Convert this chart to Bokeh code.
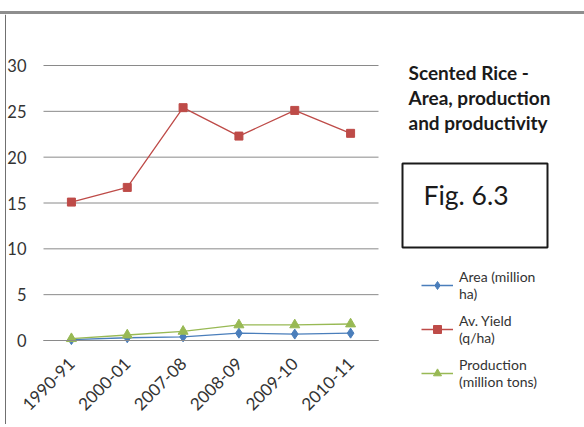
from bokeh.plotting import figure
from bokeh.models import Legend, LegendItem, Label, BoxAnnotation, FixedTicker, Span
from bokeh.embed import file_html
from bokeh.resources import INLINE
import math

years = ["1990-91", "2000-01", "2007-08", "2008-09", "2009-10", "2010-11"]
area = [0.1, 0.3, 0.4, 0.8, 0.7, 0.8]
yield_ = [15.1, 16.7, 25.4, 22.3, 25.1, 22.6]
production = [0.2, 0.6, 1.0, 1.7, 1.7, 1.8]
y_ticks = [0, 5, 10, 15, 20, 25, 30]
names = ["Area (million\nha)", "Av. Yield\n(q/ha)", "Production\n(million tons)"]
title_text = "Scented Rice -\nArea, production\nand productivity"
fig_text = "Fig. 6.3"

FONT = "Lato"
BLUE = "#4A7EBB"
RED = "#BE4B48"
GREEN = "#98B954"
GRID = "#8A8A8A"
TXT = "#333333"

n = len(years)
xpos = [i + 0.5 for i in range(n)]  # category centres

# canvas 584x413 placed at page (0, 14); value area: x 43..378, y 65..340 (page px)
px_per_x = 335 / n
px_per_y = 275 / 30
x_start = -43 / px_per_x
x_end = (584 - 43) / px_per_x
y_start = -(427 - 340) / px_per_y
y_end = 30 + (65 - 14) / px_per_y

p = figure(x_range=(x_start, x_end), y_range=(y_start, y_end), width=584, height=413,
           output_backend="svg", toolbar_location=None,
           min_border_left=0, min_border_right=0, min_border_top=0, min_border_bottom=0)
p.styles = {"margin-top": "11px", "border-top": "3px solid #8E8E8E"}
p.outline_line_color = None
p.background_fill_color = "white"
p.border_fill_color = "white"

# left frame line of the picture
p.add_layout(Span(location=5, location_units="screen", dimension="height",
                  line_color="#707070", line_width=1))

p.xgrid.grid_line_color = None
p.ygrid.grid_line_color = None
# horizontal grid lines restricted to the value area
p.segment(x0=[0] * len(y_ticks), x1=[n] * len(y_ticks), y0=y_ticks, y1=y_ticks,
          line_color=GRID, line_width=1)

p.yaxis.fixed_location = 0
p.yaxis.ticker = FixedTicker(ticks=y_ticks)
p.yaxis.axis_line_color = None
p.yaxis.major_tick_line_color = None
p.yaxis.minor_tick_line_color = None
p.yaxis.major_label_text_font = FONT
p.yaxis.major_label_text_font_size = "16.5px"
p.yaxis.major_label_text_color = TXT
p.yaxis.major_label_standoff = 11

p.xaxis.fixed_location = 0
p.xaxis.bounds = (0, n)
p.xaxis.ticker = FixedTicker(ticks=xpos)
p.xaxis.major_label_overrides = {x: y for x, y in zip(xpos, years)}
p.xaxis.axis_line_color = GRID
p.xaxis.major_tick_line_color = None
p.xaxis.minor_tick_line_color = None
p.xaxis.major_label_orientation = math.pi / 4
p.xaxis.major_label_text_font = FONT
p.xaxis.major_label_text_font_size = "17px"
p.xaxis.major_label_text_color = TXT
p.xaxis.major_label_standoff = 14

r1l = p.line(xpos, area, line_color=BLUE, line_width=1.3)
r1m = p.scatter(xpos, area, marker="diamond", size=10, fill_color=BLUE, line_color=BLUE)
r2l = p.line(xpos, yield_, line_color=RED, line_width=1.3)
r2m = p.scatter(xpos, yield_, marker="square", size=8, fill_color=RED, line_color=RED)
r3l = p.line(xpos, production, line_color=GREEN, line_width=1.3)
r3m = p.scatter(xpos, production, marker="triangle", size=10, fill_color=GREEN, line_color=GREEN)

legend = Legend(items=[LegendItem(label=names[0], renderers=[r1l, r1m]),
                       LegendItem(label=names[1], renderers=[r2l, r2m]),
                       LegendItem(label=names[2], renderers=[r3l, r3m])],
                location=(421, 37), padding=0, margin=0, spacing=10,
                border_line_color=None, background_fill_alpha=0,
                glyph_width=32, label_standoff=6,
                label_text_font=FONT, label_text_font_size="14px",
                label_text_color=TXT)
p.add_layout(legend)

title = Label(x=408, y=367, x_units="screen", y_units="screen", text=title_text,
              text_font=FONT, text_font_style="bold", text_font_size="19px",
              text_color="#1a1a1a", text_baseline="top", text_line_height=1.1)
p.add_layout(title)

box = BoxAnnotation(left=402, right=547, top=264, bottom=180,
                    left_units="screen", right_units="screen", top_units="screen", bottom_units="screen",
                    fill_alpha=0, line_color="#1a1a1a", line_alpha=1, line_width=2)
p.add_layout(box)

fig = Label(x=423, y=233, x_units="screen", y_units="screen", text=fig_text,
            text_font=FONT, text_font_size="26.5px", text_color="#1a1a1a",
            text_baseline="middle")
p.add_layout(fig)

open("out.html", "w").write(file_html(p, INLINE))
